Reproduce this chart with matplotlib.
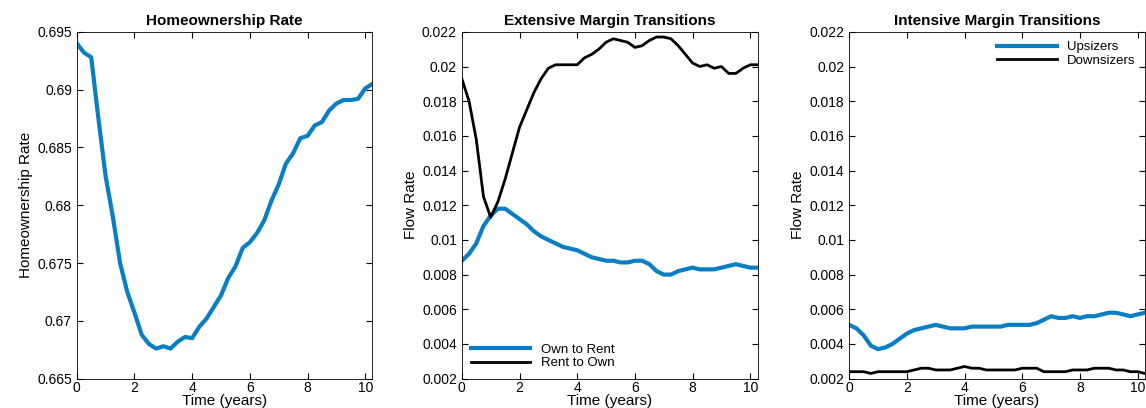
import numpy as np
import matplotlib
matplotlib.use("Agg")
from matplotlib import pyplot as plt

plt.rcParams['font.family'] = ['Liberation Sans', 'DejaVu Sans']

t = np.arange(0, 10.26, 0.25)

homeown = [0.6940, 0.6932, 0.6928, 0.6875, 0.6825, 0.6790, 0.6750, 0.6725, 0.6707, 0.6688,
           0.6680, 0.6676, 0.6678, 0.6676, 0.6682, 0.6686, 0.6685, 0.6695, 0.6702, 0.6712,
           0.6722, 0.6737, 0.6747, 0.6763, 0.6768, 0.6776, 0.6787, 0.6804, 0.6818, 0.6836,
           0.6845, 0.6858, 0.6860, 0.6869, 0.6872, 0.6882, 0.6888, 0.6891, 0.6891, 0.6892,
           0.6901, 0.6905]

own_to_rent = [0.0088, 0.0092, 0.0098, 0.0108, 0.0114, 0.0118, 0.0118, 0.0115, 0.0112, 0.0109,
               0.0105, 0.0102, 0.0100, 0.0098, 0.0096, 0.0095, 0.0094, 0.0092, 0.0090, 0.0089,
               0.0088, 0.0088, 0.0087, 0.0087, 0.0088, 0.0088, 0.0086, 0.0082, 0.0080, 0.0080,
               0.0082, 0.0083, 0.0084, 0.0083, 0.0083, 0.0083, 0.0084, 0.0085, 0.0086, 0.0085,
               0.0084, 0.0084]
rent_to_own = [0.0193, 0.0180, 0.0158, 0.0125, 0.0113, 0.0122, 0.0135, 0.0150, 0.0165, 0.0175,
               0.0185, 0.0193, 0.0199, 0.0201, 0.0201, 0.0201, 0.0201, 0.0205, 0.0207, 0.0210,
               0.0214, 0.0216, 0.0215, 0.0214, 0.0211, 0.0212, 0.0215, 0.0217, 0.0217, 0.0216,
               0.0212, 0.0207, 0.0202, 0.0200, 0.0201, 0.0199, 0.0200, 0.0196, 0.0196, 0.0199,
               0.0201, 0.0201]

upsizers = [0.0051, 0.0049, 0.0045, 0.0039, 0.0037, 0.0038, 0.0040, 0.0043, 0.0046, 0.0048,
            0.0049, 0.0050, 0.0051, 0.0050, 0.0049, 0.0049, 0.0049, 0.0050, 0.0050, 0.0050,
            0.0050, 0.0050, 0.0051, 0.0051, 0.0051, 0.0051, 0.0052, 0.0054, 0.0056, 0.0055,
            0.0055, 0.0056, 0.0055, 0.0056, 0.0056, 0.0057, 0.0058, 0.0058, 0.0057, 0.0056,
            0.0057, 0.0058]
downsizers = [0.0024, 0.0024, 0.0024, 0.0023, 0.0024, 0.0024, 0.0024, 0.0024, 0.0024, 0.0025,
              0.0026, 0.0026, 0.0025, 0.0025, 0.0025, 0.0026, 0.0027, 0.0026, 0.0026, 0.0025,
              0.0025, 0.0025, 0.0025, 0.0025, 0.0026, 0.0026, 0.0026, 0.0024, 0.0024, 0.0024,
              0.0024, 0.0025, 0.0025, 0.0025, 0.0026, 0.0026, 0.0026, 0.0025, 0.0025, 0.0024,
              0.0024, 0.0023]

blue = '#0a7ec4'
fig = plt.figure(figsize=(11.46, 4.08), dpi=100)
lefts = [0.067, 0.403, 0.741]
axes = [fig.add_axes([l, 0.072, 0.258, 0.85]) for l in lefts]

def style(ax, title, ylabel):
    ax.set_title(title, fontsize=11, fontweight='bold', pad=5)
    ax.set_xlabel('Time (years)', fontsize=11, labelpad=-1)
    ax.set_ylabel(ylabel, fontsize=11, labelpad=3)
    ax.set_xlim(0, 10.25)
    ax.set_xticks([0, 2, 4, 6, 8, 10])
    ax.tick_params(direction='in', top=True, right=True, labelsize=10, length=4)
    ax.tick_params(axis='x', pad=2)
    for s in ax.spines.values():
        s.set_linewidth(0.6)

ax = axes[0]
ax.plot(t, homeown, color=blue, lw=3)
ax.set_ylim(0.665, 0.695)
ax.set_yticks(np.arange(0.665, 0.6951, 0.005))
ax.set_yticklabels(['0.665', '0.67', '0.675', '0.68', '0.685', '0.69', '0.695'])
style(ax, 'Homeownership Rate', 'Homeownership Rate')

yt = np.arange(0.002, 0.0221, 0.002)
ylab = ['0.002', '0.004', '0.006', '0.008', '0.01', '0.012', '0.014', '0.016', '0.018', '0.02', '0.022']

ax = axes[1]
ax.plot(t, own_to_rent, color=blue, lw=3, label='Own to Rent')
ax.plot(t, rent_to_own, color='k', lw=2, label='Rent to Own')
ax.set_ylim(0.002, 0.022)
ax.set_yticks(yt)
ax.set_yticklabels(ylab)
style(ax, 'Extensive Margin Transitions', 'Flow Rate')
ax.legend(loc='lower left', fontsize=9.5, frameon=False, handlelength=4.5, borderaxespad=0.3, labelspacing=0.1)

ax = axes[2]
ax.plot(t, upsizers, color=blue, lw=3, label='Upsizers')
ax.plot(t, downsizers, color='k', lw=2, label='Downsizers')
ax.set_ylim(0.002, 0.022)
ax.set_yticks(yt)
ax.set_yticklabels(ylab)
style(ax, 'Intensive Margin Transitions', 'Flow Rate')
ax.legend(loc='upper right', fontsize=9.5, frameon=False, handlelength=4.5, borderaxespad=0.3, labelspacing=0.1)

fig.savefig('out.png', dpi=100)
